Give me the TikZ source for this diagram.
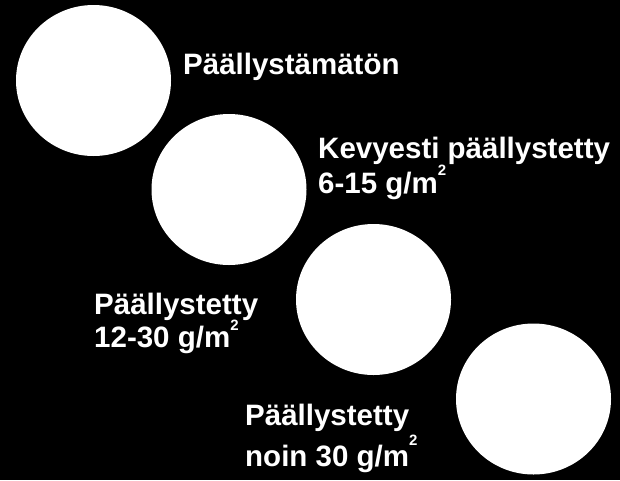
\documentclass[tikz,border=0pt]{standalone}
\usepackage{fontspec}
\setmainfont{Liberation Sans}
\tikzset{
  disc/.style={fill=white},
  coatlabel/.style={text=white, font=\bfseries\fontsize{29.5}{35}\selectfont,
    inner sep=0pt, anchor=base west, align=left}
}
% raised small 2 of the unit g/m2
\newcommand{\sqtwo}[1]{\raisebox{#1}{\fontsize{15}{15}\selectfont 2}}
\begin{document}
\begin{tikzpicture}[x=1pt,y=-1pt]
\fill[black] (0,0) rectangle (620,480);
% four discs down the diagonal
\foreach \cx/\cy in {93.5/80.5, 229/189.5, 373.5/299.5, 533.5/399} {
  \fill[disc] (\cx,\cy) ellipse [x radius=77.5, y radius=75.5];
}
% labels: anchored on the baseline of their last line
\node[coatlabel] (uncoated) at (183,74) {Päällystämätön};
\node[coatlabel] (light) at (318,193) {Kevyesti päällystetty\\6-15 g/m\sqtwo{18pt}};
\node[coatlabel] (coated) at (94,347) {Päällystetty\\[-2pt]12-30 g/m\sqtwo{17pt}};
\node[coatlabel] (heavy) at (245,466) {Päällystetty\\[2pt]noin 30 g/m\sqtwo{21pt}};
\end{tikzpicture}
\end{document}
